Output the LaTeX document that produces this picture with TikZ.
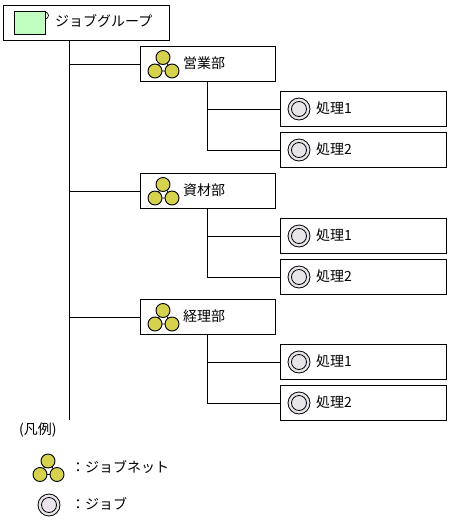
\documentclass[tikz,border=0pt]{standalone}
\usepackage{fontspec}
\setmainfont{Noto Sans CJK JP}
\definecolor{netfill}{HTML}{D6D24E}
\definecolor{jobfill}{HTML}{E8E4EA}
\definecolor{grpfill}{HTML}{C0FFC0}
\tikzset{
  x=1pt,y=-1pt,
  box/.style={draw=black,line width=1pt,fill=white,anchor=north west,inner sep=0pt,outer sep=0pt},
  lbl/.style={anchor=west,inner sep=0pt,font=\fontsize{14}{15}\selectfont},
  link/.style={draw=black,line width=1pt},
  netdot/.style={draw=black,line width=.9pt,fill=netfill},
  pics/neticon/.style={code={
    \draw[line width=.8pt] (0,0)--(-8,13.5)--(9,13.5)--cycle;
    \path[netdot] (0,0) circle[radius=7];
    \path[netdot] (-8,13.5) circle[radius=7];
    \path[netdot] (9,13.5) circle[radius=7];
  }},
  pics/jobicon/.style={code={
    \draw[line width=.8pt,fill=jobfill] (0,0) circle[radius=11];
    \draw[line width=.8pt] (0,0) circle[radius=7.5];
  }},
}
\newcommand{\deptnode}[3]{%
  \node[box,minimum width=135pt,minimum height=35pt] (#1) at (140,#2) {};
  \pic at (163,#2+11) {neticon};
  \node[lbl] (#1t) at (183,#2+16.5) {#3};
}
\newcommand{\jobnode}[3]{%
  \node[box,minimum width=166pt,minimum height=35pt] (#1) at (280,#2) {};
  \pic at (299,#2+17.5) {jobicon};
  \node[lbl] (#1t) at (316,#2+16.5) {#3};
}
\begin{document}
\begin{tikzpicture}
\useasboundingbox (0,0) rectangle (449,525);
\fill[white] (0,0) rectangle (449,525);
% group
\node[box,minimum width=166pt,minimum height=35pt] (grp) at (3.5,5.5) {};
\draw[line width=.7pt] (45,12) arc[start angle=-90,end angle=90,radius=3.5];
\draw[line width=1pt,fill=grpfill] (14.5,11.5) rectangle (45.5,34.5);
\node[lbl] (grpt) at (55,21) {ジョブグループ};
% departments
\deptnode{d1}{46.5}{営業部}
\deptnode{d2}{173.5}{資材部}
\deptnode{d3}{299.5}{経理部}
% jobs
\jobnode{j11}{91.5}{処理1}
\jobnode{j12}{132.5}{処理2}
\jobnode{j21}{218.5}{処理1}
\jobnode{j22}{259.5}{処理2}
\jobnode{j31}{344.5}{処理1}
\jobnode{j32}{385.5}{処理2}
% trunk
\coordinate (trunktop) at (69.5,40.5);
\coordinate (trunkend) at (69.5,420);
\draw[link] (trunktop) -- (trunkend);
\foreach \d in {d1,d2,d3} \draw[link] (\d.west -| trunktop) -- (\d.west);
\foreach \d/\a/\b in {d1/j11/j12,d2/j21/j22,d3/j31/j32}{
  \draw[link] (\d.south) |- (\b.west);
  \draw[link] (\d.south |- \a.west) -- (\a.west);
}
% legend
\node[lbl] (legend) at (19,430.5) {(凡例)};
\pic at (48,461) {neticon};
\node[lbl] (legnet) at (71,467) {：ジョブネット};
\pic at (49,505) {jobicon};
\node[lbl] (legjob) at (71,504) {：ジョブ};
\end{tikzpicture}
\end{document}
